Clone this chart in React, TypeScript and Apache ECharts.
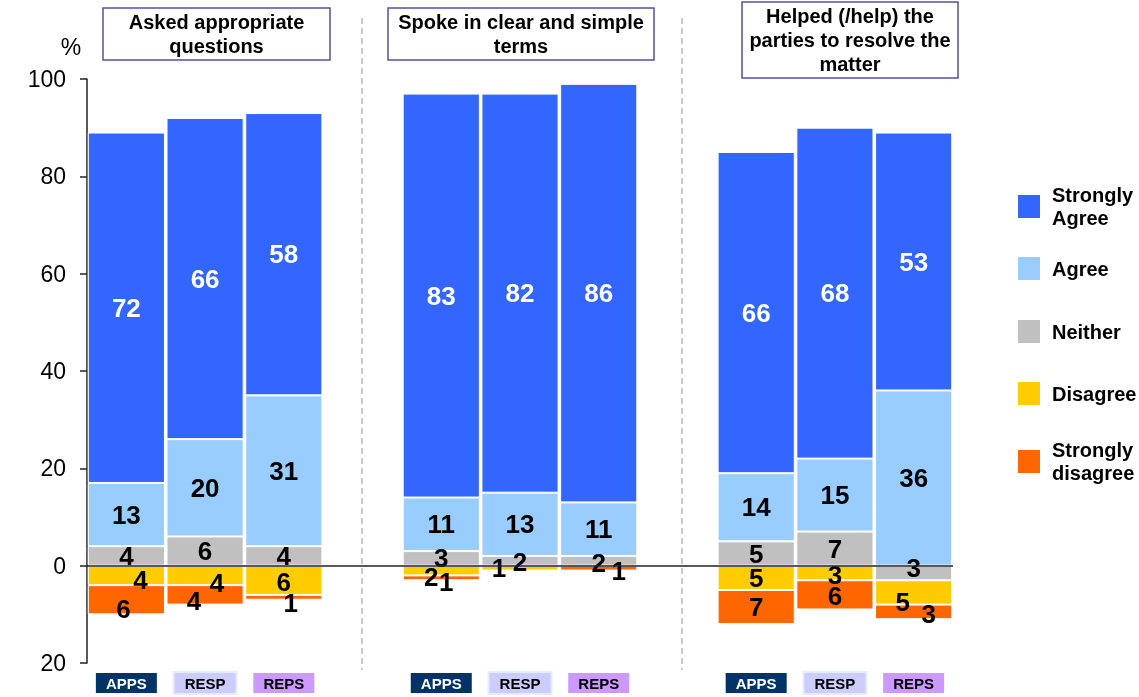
import React, { useEffect, useRef } from "react";
import * as echarts from "echarts";

// ---------- data ----------
const questions = [
  "Asked appropriate\nquestions",
  "Spoke in clear and simple\nterms",
  "Helped (/help) the\nparties to resolve the\nmatter",
];
const respondents = ["APPS", "RESP", "REPS"];

// values as plotted (negative = drawn below zero), 3 questions x 3 respondent groups
const stronglyAgree = [72, 66, 58, 83, 82, 86, 66, 68, 53];
const agree = [13, 20, 31, 11, 13, 11, 14, 15, 36];
const neither = [4, 6, 4, 3, 2, 2, 5, 7, -3];
const disagree = [-4, -4, -6, -2, -1, 0, -5, -3, -5];
const stronglyDisagree = [-6, -4, -1, -1, 0, -1, -7, -6, -3];

const seriesNames = ["Strongly Agree", "Agree", "Neither", "Disagree", "Strongly disagree"];
const legendLabels = ["Strongly\nAgree", "Agree", "Neither", "Disagree", "Strongly\ndisagree"];

const yMin = -20;
const yMax = 100;
const yStep = 20;

// ---------- styles / layout ----------
const FONT = "Liberation Sans, Arial, Helvetica, sans-serif";
const colors: Record<string, string> = {
  "Strongly Agree": "#3366FF",
  Agree: "#99CCFF",
  Neither: "#C0C0C0",
  Disagree: "#FFCC00",
  "Strongly disagree": "#FF6600",
};
const labelOffsets: Record<string, number[][]> = {
  Neither: [[0, 0], [0, 0], [0, 0], [0, 0], [0, 1], [0, 2], [0, 0], [0, 0], [0, -5]],
  Disagree: [[14, 5], [12, 8], [0, 2], [-10, 6], [-21, 0], [0, 0], [0, 0], [0, 2], [-11, 10]],
  "Strongly disagree": [[-3, 9], [-11, 6], [7, 6], [5, 4], [0, 0], [20, 3], [0, 0], [0, 1], [15, 2]],
};
const legendSquareTops = [194, 255, 318, 380, 449];

function buildCategories() {
  const cats: string[] = [];
  questions.forEach((_, q) => {
    respondents.forEach((r) => cats.push(`${q}|${r}`));
    if (q < questions.length - 1) cats.push(`gap${q}`);
  });
  return cats;
}

function expand(values: number[], name: string) {
  const out: any[] = [];
  values.forEach((v, i) => {
    const off = labelOffsets[name] ? labelOffsets[name][i] : [0, 0];
    out.push(v === 0 ? "-" : { value: v, label: { offset: off } });
    if (i % 3 === 2 && i < values.length - 1) out.push("-");
  });
  return out;
}

export default function App() {
  const ref = useRef<HTMLDivElement>(null);
  useEffect(() => {
    if (!ref.current) return;
    const chart = echarts.init(ref.current, undefined, { renderer: "svg" });
    const cats = buildCategories();
    const valueMap: Record<string, number[]> = {
      Neither: neither,
      Agree: agree,
      "Strongly Agree": stronglyAgree,
      Disagree: disagree,
      "Strongly disagree": stronglyDisagree,
    };
    const order = ["Neither", "Agree", "Strongly Agree", "Disagree", "Strongly disagree"];
    const series: any[] = order.map((name) => ({
      name,
      type: "bar",
      stack: "total",
      barCategoryGap: "2%",
      data: expand(valueMap[name], name),
      itemStyle: { color: colors[name], borderColor: "#ffffff", borderWidth: 1 },
      label: {
        show: true,
        position: "inside",
        fontFamily: FONT,
        fontSize: 26,
        fontWeight: "bold",
        color: name === "Strongly Agree" ? "#ffffff" : "#000000",
        formatter: (p: any) => {
          const v = typeof p.value === "number" ? p.value : Number(p.value);
          return v ? String(Math.abs(v)) : "";
        },
      },
      emphasis: { disabled: true },
    }));
    series[2].markLine = {
      silent: true,
      symbol: "none",
      label: { show: false },
      lineStyle: { color: "#222222", type: "solid", width: 1.5 },
      data: [{ yAxis: 0 }],
    };

    const titleBoxes = [
      { x: 103, y: 8, w: 227, h: 52 },
      { x: 388, y: 8, w: 266, h: 52 },
      { x: 742, y: 2, w: 216, h: 76 },
    ];
    const graphic: any[] = [];
    titleBoxes.forEach((b, i) => {
      graphic.push({
        type: "rect",
        shape: { x: b.x, y: b.y, width: b.w, height: b.h },
        style: { fill: "#ffffff", stroke: "#5252A8", lineWidth: 1.5 },
      });
      graphic.push({
        type: "text",
        x: b.x + b.w / 2,
        y: b.y + b.h / 2,
        style: {
          text: questions[i],
          fill: "#000000",
          fontFamily: FONT,
          fontSize: 20,
          fontWeight: "bold",
          lineHeight: 24,
          align: "center",
          verticalAlign: "middle",
          textAlign: "center",
          textVerticalAlign: "middle",
        },
      });
    });
    [362, 682].forEach((x) => {
      graphic.push({
        type: "line",
        shape: { x1: x, y1: 18, x2: x, y2: 670 },
        style: { stroke: "#BBBBBB", lineWidth: 1.5, lineDash: [6, 4] },
      });
    });
    graphic.push({
      type: "text",
      x: 71,
      y: 47,
      style: {
        text: "%",
        fill: "#000000",
        fontFamily: FONT,
        fontSize: 23,
        align: "center",
        verticalAlign: "middle",
        textAlign: "center",
        textVerticalAlign: "middle",
      },
    });

    const boxBase = { width: 61, height: 20, lineHeight: 20, align: "center", fontFamily: FONT, fontSize: 15, fontWeight: "bold" };

    chart.setOption({
      animation: false,
      grid: { left: 87, right: 186, top: 79, bottom: 34, containLabel: false },
      legend: seriesNames.map((name, i) => {
        const multi = legendLabels[i].includes("\n");
        return {
          data: [name],
          left: 1016,
          top: multi ? legendSquareTops[i] - 15.5 : legendSquareTops[i],
          padding: 0,
          orient: "vertical",
          icon: "rect",
          itemWidth: 24,
          itemHeight: 25,
          selectedMode: false,
          formatter: () => legendLabels[i],
          textStyle: {
            fontFamily: FONT,
            fontSize: 20,
            fontWeight: "bold",
            color: "#000000",
            lineHeight: 23,
            padding: multi ? [10, 0, 0, 6] : [2, 0, 0, 6],
          },
        };
      }),
      xAxis: {
        type: "category",
        data: cats,
        axisLine: { show: false, onZero: false },
        axisTick: { show: false },
        splitLine: { show: false },
        axisLabel: {
          interval: 0,
          margin: 10,
          formatter: (v: string) => {
            if (v.startsWith("gap")) return "";
            const r = v.split("|")[1];
            return `{${r.toLowerCase()}|${r}}`;
          },
          rich: {
            apps: { ...boxBase, backgroundColor: "#003366", color: "#ffffff" },
            resp: { ...boxBase, backgroundColor: "#CCCCFF", color: "#000000", borderColor: "#E4ECFF", borderWidth: 2 },
            reps: { ...boxBase, backgroundColor: "#CC99FF", color: "#000000" },
          },
        },
      },
      yAxis: {
        type: "value",
        min: yMin,
        max: yMax,
        interval: yStep,
        splitLine: { show: false },
        axisLine: { show: true, lineStyle: { color: "#222222", width: 1.5 } },
        axisTick: { show: true, length: 7, lineStyle: { color: "#222222", width: 1.5 } },
        axisLabel: {
          fontFamily: FONT,
          fontSize: 23,
          color: "#000000",
          margin: 21,
          formatter: (v: number) => String(Math.abs(v)),
        },
      },
      graphic,
      series,
    });
    return () => chart.dispose();
  }, []);
  return <div ref={ref} style={{ position: "fixed", left: 0, top: 0, width: 1139, height: 697 }} />;
}
